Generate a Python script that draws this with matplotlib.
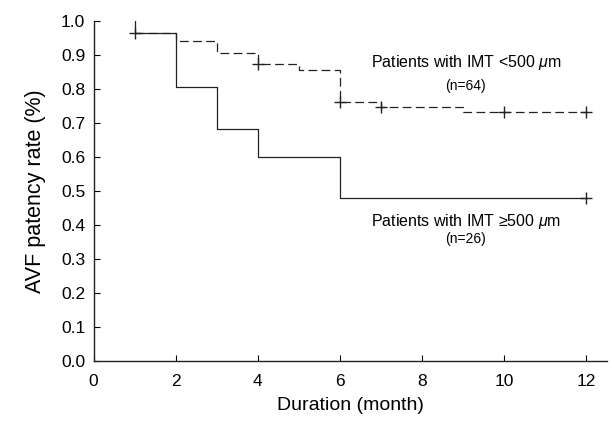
import numpy as np
import matplotlib
matplotlib.use("Agg")
import matplotlib.pyplot as plt
from matplotlib import font_manager

# Data
low_times = [1, 2, 3, 4, 5, 6, 7, 9, 12]
low_surv = [0.965, 0.94, 0.907, 0.875, 0.857, 0.763, 0.748, 0.731, 0.731]
low_censor = [1, 4, 6, 7, 10, 12]

high_times = [1, 1, 2, 3, 4, 6, 12]
high_surv = [1.0, 0.965, 0.806, 0.683, 0.600, 0.480, 0.480]
high_censor = [12]

x_ticks = [0, 2, 4, 6, 8, 10, 12]
y_ticks = [0.0, 0.1, 0.2, 0.3, 0.4, 0.5, 0.6, 0.7, 0.8, 0.9, 1.0]

names = {f.name for f in font_manager.fontManager.ttflist}
base = 'Liberation Sans' if 'Liberation Sans' in names else 'DejaVu Sans'
narrow = 'Liberation Sans Narrow' if 'Liberation Sans Narrow' in names else base
plt.rcParams['font.family'] = [base, 'DejaVu Sans']
plt.rcParams['mathtext.fontset'] = 'custom'
plt.rcParams['mathtext.it'] = base + ':italic'
plt.rcParams['mathtext.rm'] = base


def step_value(times, surv, t):
    idx = np.searchsorted(times, t, side='right') - 1
    return surv[idx]


fig = plt.figure(figsize=(6.12, 4.21), dpi=100)
ax = fig.add_axes([0.1528, 0.1425, 0.8385, 0.8075])

col = '#222222'
ax.step(low_times, low_surv, where='post', color=col, lw=0.9,
        linestyle=(0, (7, 3.5)))
ax.step(high_times, high_surv, where='post', color=col, lw=0.9)

lc_y = [step_value(low_times, low_surv, t) for t in low_censor]
hc_y = [step_value(high_times, high_surv, t) for t in high_censor]
ax.plot(low_censor, lc_y, linestyle='none', marker='+', ms=8, mew=1.0, color=col)
ax.plot(high_censor, hc_y, linestyle='none', marker='+', ms=8, mew=1.0, color=col)

ax.set_xlim(0, 12.5)
ax.set_ylim(0, 1.0)
ax.set_xticks(x_ticks)
ax.set_yticks(y_ticks)
ax.set_yticklabels([f"{v:.1f}" for v in y_ticks])
ax.spines['top'].set_visible(False)
ax.spines['right'].set_visible(False)
for s in ['left', 'bottom']:
    ax.spines[s].set_linewidth(1.0)
    ax.spines[s].set_color(col)
ax.tick_params(direction='in', length=4, width=0.8, labelsize=12.5, colors='black')
ax.tick_params(axis='x', pad=9)
ax.tick_params(axis='y', pad=6)

ax.set_xlabel('Duration (month)', fontsize=14, labelpad=6)
ax.set_ylabel('AVF patency rate (%)', fontsize=15.5, labelpad=11)

ax.text(9.07, 0.879, r'Patients with IMT <500$\ \mu$m', ha='center', va='center',
        fontsize=11.5, family=[narrow, 'DejaVu Sans'])
ax.text(9.07, 0.809, '(n=64)', ha='center', va='center', fontsize=10,
        family=[narrow, 'DejaVu Sans'])
ax.text(9.07, 0.41, 'Patients with IMT \u2265500$\\ \\mu$m', ha='center', va='center',
        fontsize=11.5, family=[narrow, 'DejaVu Sans'])
ax.text(9.07, 0.358, '(n=26)', ha='center', va='center', fontsize=10,
        family=[narrow, 'DejaVu Sans'])

fig.savefig('out.png', dpi=100)
